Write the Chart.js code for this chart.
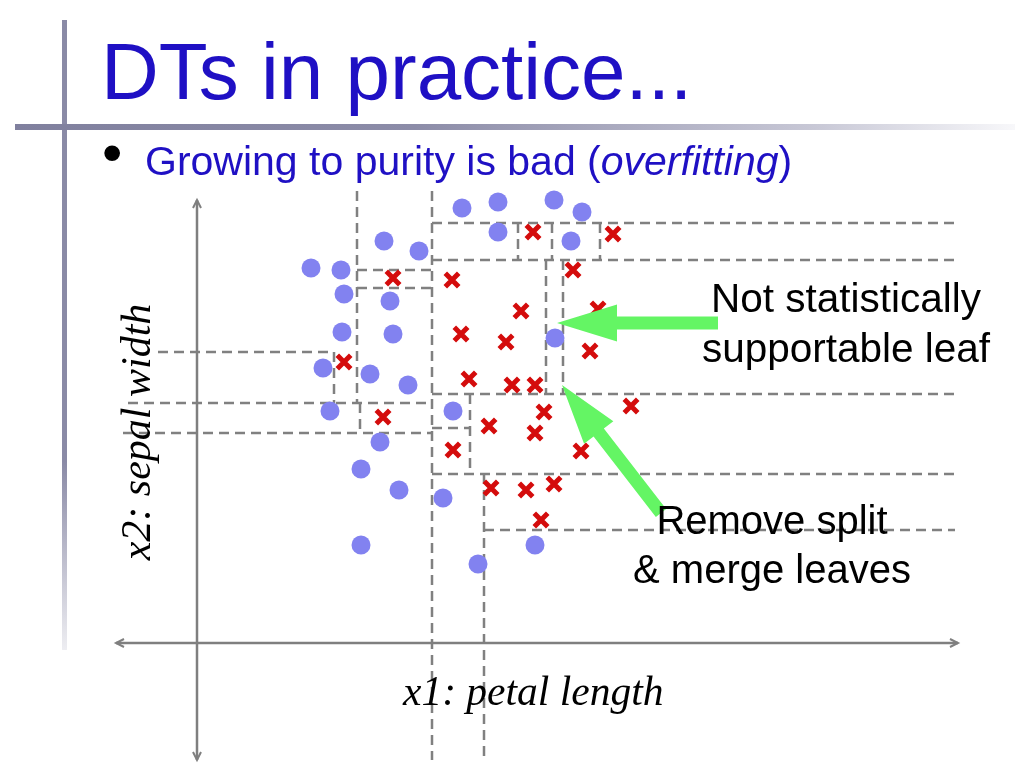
<!DOCTYPE html>
<html><head><meta charset="utf-8">
<script src="https://cdn.jsdelivr.net/npm/chart.js@4"></script>
<style>
html,body{margin:0;padding:0;background:#fff;width:1023px;height:767px;overflow:hidden;}
#wrap{position:absolute;left:0;top:0;width:1023px;height:767px;}
.t{position:absolute;white-space:nowrap;line-height:1;}
.sans{font-family:"Liberation Sans",Arial,sans-serif;}
.serif{font-family:"Liberation Serif","Times New Roman",serif;font-style:italic;}
#vbar{position:absolute;left:62px;top:20px;width:5px;height:630px;background:linear-gradient(to bottom,#8a8aa6 0%,#8a8aa6 70%,rgba(138,138,166,0.15) 100%);}
#hbar{position:absolute;left:15px;top:124px;width:1000px;height:6px;background:linear-gradient(to right,#80809e 0%,#8c8ca8 40%,#c8c8d6 80%,rgba(230,230,238,0.3) 100%);}
</style></head><body>
<div id="vbar"></div>
<div id="hbar"></div>
<div id="wrap"><canvas id="c"></canvas></div>
<div class="t sans" style="left:101px;top:32px;font-size:80px;color:#1f10c4;">DTs in practice...</div>
<div class="t sans" style="left:102px;top:123px;font-size:58px;color:#000;">•</div>
<div class="t sans" style="left:145px;top:141px;font-size:41px;color:#1f10c4;">Growing to purity is bad (<i>overfitting</i>)</div>
<div class="t sans" style="left:546px;width:600px;text-align:center;top:278px;font-size:40.5px;color:#000;">Not statistically</div>
<div class="t sans" style="left:546px;width:600px;text-align:center;top:328px;font-size:40.5px;color:#000;">supportable leaf</div>
<div class="t sans" style="left:472px;width:600px;text-align:center;top:500px;font-size:40px;color:#000;">Remove split</div>
<div class="t sans" style="left:472px;width:600px;text-align:center;top:549px;font-size:40px;color:#000;">&amp; merge leaves</div>
<div class="t serif" style="left:403px;top:671px;font-size:41.5px;color:#000;">x1: petal length</div>
<div class="t serif" style="left:-164px;width:600px;text-align:center;top:411px;font-size:42px;color:#000;transform:rotate(-90deg);transform-origin:300px 21px;">x2: sepal width</div>
<script>
// ---- data (x1: petal length units, x2: sepal width units) ----
const circleX = [5.30,6.02,7.14,7.70,6.02,7.48,3.74,4.44,2.28,2.88,2.94,3.86,2.90,3.92,7.16,2.52,3.46,4.22,2.66,5.12,3.66,3.28,4.04,4.92,3.28,6.76,5.62];
const circleY = [8.70,8.82,8.86,8.62,8.22,8.04,8.04,7.84,7.50,7.46,6.98,6.84,6.22,6.18,6.10,5.50,5.38,5.16,4.64,4.64,4.02,3.48,3.06,2.90,1.96,1.96,1.58];
const crossX = [6.72,8.32,7.52,3.92,5.10,6.48,8.02,5.28,6.18,7.86,2.94,5.44,6.30,6.76,8.68,6.94,3.72,5.84,6.76,5.12,7.68,5.88,6.58,7.14,6.88];
const crossY = [8.22,8.18,7.46,7.30,7.26,6.64,6.68,6.18,6.02,5.84,5.62,5.28,5.16,5.16,4.74,4.62,4.52,4.34,4.20,3.86,3.84,3.10,3.06,3.18,2.46];
// horizontal split boundaries: y, from x0 to x1
const hSplitY  = [8.40,7.66,7.46,7.10,5.82,4.98,4.80,4.30,4.20,3.38,2.26];
const hSplitX0 = [4.70,4.70,3.20,3.20,-0.78,4.70,-1.38,4.70,-1.48,4.70,5.74];
const hSplitX1 = [15.16,15.16,4.70,4.70,2.74,15.16,4.70,5.46,4.70,15.16,15.16];
// vertical split boundaries: x, from y0 to y1
const vSplitX  = [3.20,4.70,6.42,7.10,8.06,6.98,7.32,2.74,3.26,5.46,5.74];
const vSplitY0 = [9.04,9.04,8.40,8.40,8.40,7.66,7.66,5.82,4.80,4.98,3.38];
const vSplitY1 = [4.80,-2.34,7.66,7.66,7.66,4.98,4.98,4.80,4.20,3.38,-2.34];
// axes
const xAxisX = [-1.62,15.22], xAxisY = [0,0];
const yAxisX = [0,0], yAxisY = [8.86,-2.34];
// annotation arrows (tail -> tip)
const arrowTailX = [10.42,9.28], arrowTailY = [6.40,2.60];
const arrowTipX  = [7.20,7.30],  arrowTipY  = [6.40,5.16];

const GRAY='#808080', BLUE='#8282f0', RED='#d40c0c', GREEN='#64f564';
const datasets = [];
datasets.push({label:'class 1',data:circleX.map((v,i)=>({x:v,y:circleY[i]})),pointStyle:'circle',pointRadius:9.5,backgroundColor:BLUE,borderColor:BLUE,borderWidth:0,order:0});
datasets.push({label:'class 2',data:crossX.map((v,i)=>({x:v,y:crossY[i]})),pointStyle:'crossRot',pointRadius:9.5,borderColor:RED,backgroundColor:RED,borderWidth:5,order:0});
hSplitY.forEach((v,i)=>datasets.push({data:[{x:hSplitX0[i],y:v},{x:hSplitX1[i],y:v}],showLine:true,pointRadius:0,borderColor:GRAY,borderWidth:2.5,borderDash:[10,6],order:2}));
vSplitX.forEach((v,i)=>datasets.push({data:[{x:v,y:vSplitY0[i]},{x:v,y:vSplitY1[i]}],showLine:true,pointRadius:0,borderColor:GRAY,borderWidth:2.5,borderDash:[10,6],order:2}));
datasets.push({data:xAxisX.map((v,i)=>({x:v,y:xAxisY[i]})),showLine:true,pointRadius:0,borderColor:'#7f7f7f',borderWidth:2.5,order:1});
datasets.push({data:yAxisX.map((v,i)=>({x:v,y:yAxisY[i]})),showLine:true,pointRadius:0,borderColor:'#7f7f7f',borderWidth:2.5,order:1});

function arrowHead(ctx,px0,py0,px1,py1){
  const dx=px1-px0,dy=py1-py0,L=Math.hypot(dx,dy),ux=dx/L,uy=dy/L,nx=-uy,ny=ux;
  ctx.beginPath();
  ctx.moveTo(px1-ux*8+nx*4,py1-uy*8+ny*4);
  ctx.lineTo(px1,py1);
  ctx.lineTo(px1-ux*8-nx*4,py1-uy*8-ny*4);
  ctx.stroke();
}
const decor = {
  id:'decor',
  afterDatasetsDraw(chart){
    const {ctx,scales:{x,y}} = chart;
    ctx.save();
    ctx.strokeStyle='#7f7f7f'; ctx.lineWidth=2;
    [[xAxisX,xAxisY],[yAxisX,yAxisY]].forEach(([ax,ay])=>{
      const a=[x.getPixelForValue(ax[0]),y.getPixelForValue(ay[0])];
      const b=[x.getPixelForValue(ax[1]),y.getPixelForValue(ay[1])];
      arrowHead(ctx,a[0],a[1],b[0],b[1]);
      arrowHead(ctx,b[0],b[1],a[0],a[1]);
    });
    ctx.fillStyle=GREEN;
    arrowTipX.forEach((tx,i)=>{
      const px1=x.getPixelForValue(tx),py1=y.getPixelForValue(arrowTipY[i]);
      const px0=x.getPixelForValue(arrowTailX[i]),py0=y.getPixelForValue(arrowTailY[i]);
      const dx=px1-px0,dy=py1-py0,L=Math.hypot(dx,dy),ux=dx/L,uy=dy/L,nx=-uy,ny=ux;
      const hl=60,hw=18.5,sw=6.5,bx=px1-ux*hl,by=py1-uy*hl;
      ctx.beginPath();
      ctx.moveTo(px0+nx*sw,py0+ny*sw);
      ctx.lineTo(bx+nx*sw,by+ny*sw);
      ctx.lineTo(bx+nx*hw,by+ny*hw);
      ctx.lineTo(px1,py1);
      ctx.lineTo(bx-nx*hw,by-ny*hw);
      ctx.lineTo(bx-nx*sw,by-ny*sw);
      ctx.lineTo(px0-nx*sw,py0-ny*sw);
      ctx.closePath(); ctx.fill();
    });
    ctx.restore();
  }
};
new Chart(document.getElementById('c'),{
  type:'scatter',
  data:{datasets},
  options:{
    responsive:true,maintainAspectRatio:false,animation:false,
    layout:{padding:0,autoPadding:false},
    plugins:{legend:{display:false},tooltip:{enabled:false}},
    scales:{
      x:{type:'linear',min:-3.94,max:16.52,display:false},
      y:{type:'linear',min:-2.48,max:12.86,display:false}
    }
  },
  plugins:[decor]
});
</script>
</body></html>
